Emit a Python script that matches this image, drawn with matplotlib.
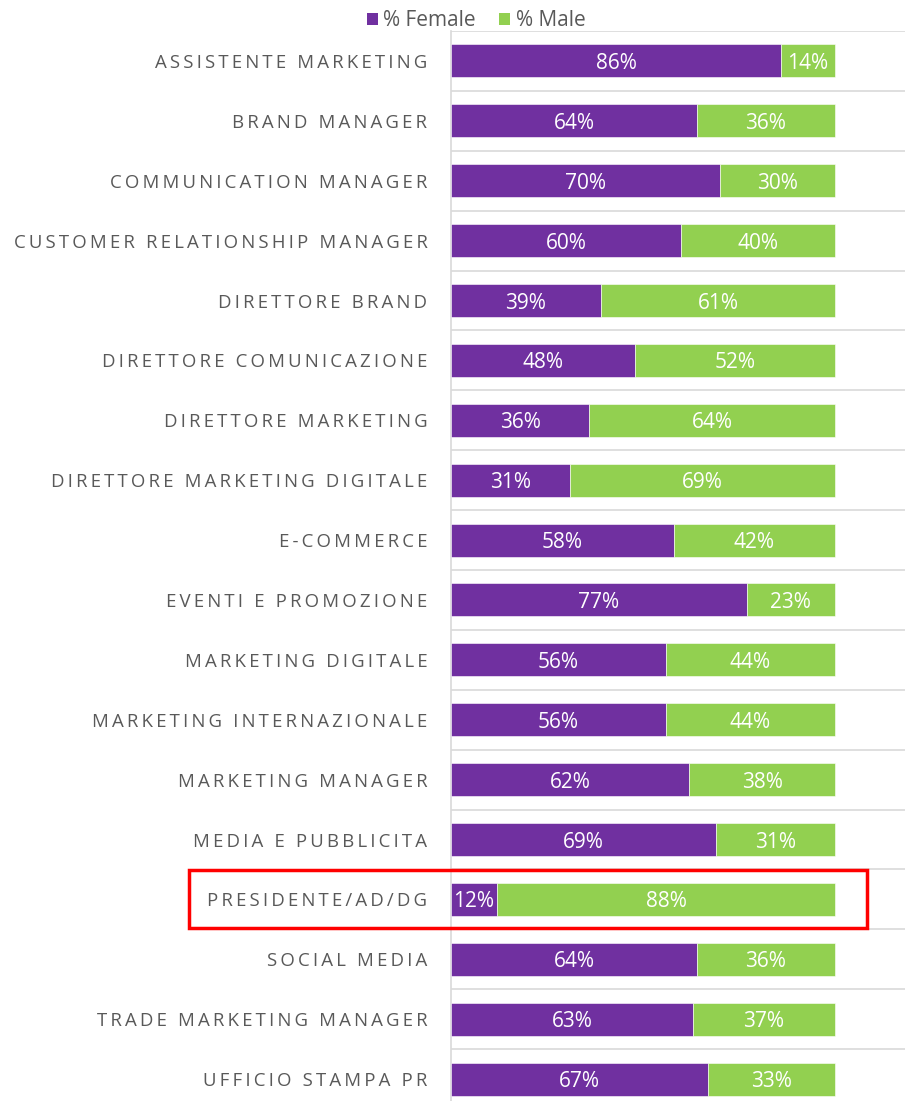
import matplotlib
matplotlib.use("Agg")
import matplotlib.pyplot as plt
from matplotlib.patches import Rectangle, Patch
import numpy as np

categories = [
    "ASSISTENTE MARKETING", "BRAND MANAGER", "COMMUNICATION MANAGER",
    "CUSTOMER RELATIONSHIP MANAGER", "DIRETTORE BRAND", "DIRETTORE COMUNICAZIONE",
    "DIRETTORE MARKETING", "DIRETTORE MARKETING DIGITALE", "E-COMMERCE",
    "EVENTI E PROMOZIONE", "MARKETING DIGITALE", "MARKETING INTERNAZIONALE",
    "MARKETING MANAGER", "MEDIA E PUBBLICITA", "PRESIDENTE/AD/DG",
    "SOCIAL MEDIA", "TRADE MARKETING MANAGER", "UFFICIO STAMPA PR",
]
female = [86, 64, 70, 60, 39, 48, 36, 31, 58, 77, 56, 56, 62, 69, 12, 64, 63, 67]
male = [14, 36, 30, 40, 61, 52, 64, 69, 42, 23, 44, 44, 38, 31, 88, 36, 37, 33]
series_names = ["% Female", "% Male"]

PURPLE = "#7030A0"
GREEN = "#92D050"
GRAY = "#595959"
FONT = ["Open Sans", "DejaVu Sans"]

W, H = 905, 1101
fig = plt.figure(figsize=(W / 100, H / 100), dpi=100)
left = 451 / W
top_px, bot_px = 31, 1109
ax = fig.add_axes([left, 1 - bot_px / H, 1 - left, (bot_px - top_px) / H])

y = np.arange(len(categories))
f = np.array(female) / 100
m = np.array(male) / 100
ax.barh(y, f, height=0.55, color=PURPLE, edgecolor="white", linewidth=0.4, zorder=3)
ax.barh(y, m, left=f, height=0.55, color=GREEN, edgecolor="white", linewidth=0.4, zorder=3)

for i in range(len(categories)):
    ax.text(f[i] / 2, y[i], f"{female[i]}%", ha="center", va="center_baseline", color="white",
            fontsize=15, family=FONT, zorder=4)
    ax.text(f[i] + m[i] / 2, y[i], f"{male[i]}%", ha="center", va="center_baseline", color="white",
            fontsize=15, family=FONT, zorder=4)

ax.set_xlim(0, (W - 451) / 384)
ax.set_ylim(len(categories) - 0.5, -0.5)

def spaced(s):
    return "\u2009".join(list(s))

ax.set_yticks(y)
ax.set_yticklabels([spaced(c) for c in categories], family=FONT, fontsize=13.4, color=GRAY)
ax.tick_params(axis="y", length=0, pad=17)
ax.set_xticks([])
ax.set_yticks(np.arange(len(categories) + 1) - 0.5, minor=True)
ax.tick_params(axis="y", which="minor", length=0)
ax.grid(axis="y", which="minor", color="#D9D9D9", linewidth=1.2, zorder=0)
for s in ["top", "right", "bottom"]:
    ax.spines[s].set_visible(False)
ax.spines["left"].set_color("#D9D9D9")
ax.spines["left"].set_linewidth(1.2)

handles = [Patch(facecolor=PURPLE), Patch(facecolor=GREEN)]
fig.legend(handles, series_names, loc="center", bbox_to_anchor=(476 / W, 1 - 21 / H),
           ncol=2, frameon=False, handlelength=0.55, handleheight=0.55, handletextpad=0.25,
           columnspacing=1.1, prop={"family": FONT, "size": 15}, labelcolor=GRAY)

rect = Rectangle((189 / W, 1 - 928 / H), (867 - 189) / W, (928 - 870) / H,
                 transform=fig.transFigure, fill=False, edgecolor="#FF0000", linewidth=2.5,
                 zorder=10)
fig.patches.append(rect)

fig.savefig("out.png", dpi=100)
